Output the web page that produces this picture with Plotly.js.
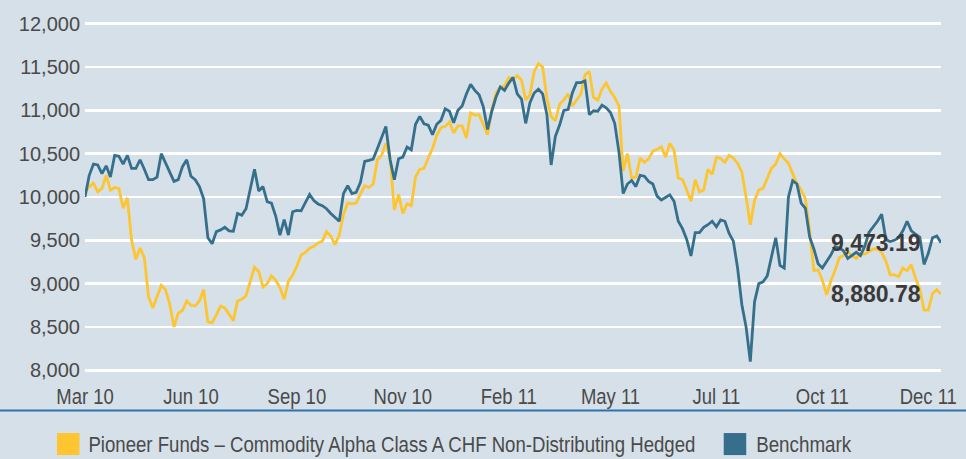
<!DOCTYPE html>
<html>
<head>
<meta charset="utf-8">
<script src="https://cdn.plot.ly/plotly-3.0.1.min.js"></script>
<style>
  html, body { margin: 0; padding: 0; background: #d6e0e8; }
  #chart { width: 966px; height: 459px; }
</style>
</head>
<body>
<div id="chart"></div>
<script>
// Tick labels and the data-point index each one marks
const tickLabels = ["Mar 10", "Jun 10", "Sep 10", "Nov 10", "Feb 11", "May 11", "Jul 11", "Oct 11", "Dec 11"];
const tickIndex = [0, 25, 50, 75, 100, 124, 149, 174, 199];

const fundName = "Pioneer Funds \u2013 Commodity Alpha Class A CHF Non-Distributing Hedged";
const benchName = "Benchmark";

// Fund series (yellow)
const fund = [
  10055,10120,10160,10060,10100,10250,10080,10110,10100,9870,
  9990,9500,9280,9410,9300,8850,8720,8850,8980,8930,
  8760,8500,8660,8690,8800,8750,8744,8800,8930,8560,
  8550,8640,8740,8720,8650,8573,8800,8820,8860,9030,
  9190,9140,8960,9000,9090,9040,8955,8820,9029,9100,
  9200,9330,9360,9409,9430,9470,9490,9600,9550,9450,
  9561,9800,9930,9920,9930,10036,10130,10110,10150,10430,
  10481,10620,10450,9850,10030,9810,9920,9900,10230,10319,
  10330,10450,10560,10710,10800,10815,10865,10738,10820,10820,
  10680,10970,10945,10950,10835,10720,11010,11200,11269,11280,
  11380,11360,11400,11350,11120,11180,11450,11540,11500,11140,
  10930,10880,11071,11120,11190,11050,11120,11186,11410,11450,
  11150,11117,11244,11315,11220,11150,11050,10300,10500,10220,
  10230,10450,10400,10440,10530,10550,10580,10460,10620,10540,
  10220,10200,10080,9950,10200,10060,10080,10320,10260,10460,
  10445,10400,10480,10450,10390,10290,10000,9680,9960,10080,
  10100,10210,10330,10380,10500,10440,10390,10270,10156,10080,
  9980,9612,9150,9160,9040,8870,9030,9150,9300,9325,
  9370,9320,9290,9345,9340,9370,9400,9400,9360,9260,
  9100,9100,9080,9180,9150,9220,9060,8940,8694,8694,
  8886,8930,8880.78
];

// Benchmark series (dark blue)
const bench = [
  10000,10250,10380,10370,10270,10360,10230,10480,10470,10380,
  10480,10330,10330,10430,10320,10200,10200,10230,10500,10400,
  10300,10180,10200,10350,10430,10240,10200,10120,9980,9530,
  9460,9600,9620,9650,9610,9605,9810,9790,9865,10110,
  10320,10070,10120,9945,9930,9780,9560,9740,9560,9830,
  9846,9840,9930,10030,9960,9920,9900,9865,9810,9760,
  9720,10040,10130,10040,10055,10170,10410,10423,10438,10560,
  10690,10815,10430,10200,10442,10460,10577,10545,10840,10930,
  10846,10830,10720,10840,10885,11019,10990,10858,11000,11050,
  11190,11300,11231,11180,11040,10780,10990,11154,11270,11230,
  11315,11380,11190,11130,10850,11090,11200,11245,11190,10950,
  10370,10700,10830,11000,11010,11200,11320,11320,11340,10950,
  10995,10990,11060,11030,10975,10850,10520,10040,10150,10190,
  10120,10250,10240,10180,10150,10010,9965,10000,10025,9950,
  9720,9635,9510,9320,9588,9588,9650,9680,9720,9656,
  9735,9720,9580,9490,9180,8760,8500,8100,8790,9000,
  9020,9090,9300,9530,9210,9180,10000,10188,10150,9930,
  9870,9540,9400,9230,9180,9250,9330,9428,9410,9380,
  9290,9325,9362,9325,9430,9590,9650,9720,9800,9510,
  9485,9500,9530,9610,9720,9610,9570,9536,9222,9350,
  9530,9550,9473.19
];

const yTicks = [8000, 8500, 9000, 9500, 10000, 10500, 11000, 11500, 12000];

const C_BG = "#d6e0e8";
const C_FUND = "#fdc52f";
const C_BENCH = "#366f8c";
const C_TEXT = "#4a4a4a";
const SANS = "'Liberation Sans', Arial, sans-serif";
const CONDENSE = 0.84;   // horizontal squeeze to mimic the condensed face

const idx = fund.map((_, i) => i);
const last = fund.length - 1;
const fmt = v => v.toLocaleString("en-US", {minimumFractionDigits: 2, maximumFractionDigits: 2});

const traces = [
  { x: idx, y: fund, type: "scatter", mode: "lines", name: fundName,
    line: { color: C_FUND, width: 2.8 }, showlegend: false, hoverinfo: "skip" },
  { x: idx, y: bench, type: "scatter", mode: "lines", name: benchName,
    line: { color: C_BENCH, width: 2.8 }, showlegend: false, hoverinfo: "skip" }
];

const W = 966, H = 459;
const mL = 85, mR = 25.3, mT = 22.3, mB = 87;
const pw = W - mL - mR, ph = H - mT - mB;
const px = x => (x - mL) / pw;
const py = y => (H - mB - y) / ph;

const layout = {
  width: W, height: H,
  paper_bgcolor: C_BG, plot_bgcolor: C_BG,
  margin: { l: mL, r: mR, t: mT, b: mB, pad: 0 },
  showlegend: false,
  xaxis: {
    range: [0, last], showgrid: false, zeroline: false, showline: false,
    tickmode: "array", tickvals: tickIndex, ticktext: tickLabels,
    ticks: "", ticklabelstandoff: 9,
    tickfont: { family: SANS, size: 22, color: C_TEXT }
  },
  yaxis: {
    range: [7980, 12020], tickmode: "array", tickvals: yTicks,
    tickformat: ",d", showgrid: true, gridcolor: "#ffffff", gridwidth: 2.5,
    zeroline: false, showline: false, ticks: "", ticklabelstandoff: 4,
    tickfont: { family: SANS, size: 20, color: C_TEXT }
  },
  shapes: [
    { type: "line", xref: "paper", yref: "paper", x0: px(0), x1: px(W), y0: py(410.5), y1: py(410.5),
      line: { color: "#2f72aa", width: 2 } },
    { type: "rect", xref: "paper", yref: "paper", x0: px(57), x1: px(79.5), y0: py(433), y1: py(455),
      fillcolor: C_FUND, line: { width: 0 } },
    { type: "rect", xref: "paper", yref: "paper", x0: px(723.5), x1: px(746), y0: py(433), y1: py(455),
      fillcolor: C_BENCH, line: { width: 0 } }
  ],
  annotations: [
    { xref: "x", yref: "y", x: last, y: bench[last], text: "<b>" + fmt(bench[last]) + "</b>",
      showarrow: false, xanchor: "right", yanchor: "middle", xshift: -18,
      font: { family: SANS, size: 23, color: "#3a3a3a" } },
    { xref: "x", yref: "y", x: last, y: fund[last], text: "<b>" + fmt(fund[last]) + "</b>",
      showarrow: false, xanchor: "right", yanchor: "middle", xshift: -18,
      font: { family: SANS, size: 23, color: "#3a3a3a" } },
    { xref: "paper", yref: "paper", x: px(392.3), y: py(444), text: fundName,
      showarrow: false, xanchor: "center", yanchor: "middle",
      font: { family: SANS, size: 22, color: C_TEXT } },
    { xref: "paper", yref: "paper", x: px(804), y: py(444), text: benchName,
      showarrow: false, xanchor: "center", yanchor: "middle",
      font: { family: SANS, size: 22, color: C_TEXT } }
  ]
};

function squeeze(el, target) {
  const w = el.getComputedTextLength();
  el.setAttribute("textLength", (target || w * CONDENSE).toFixed(1));
  el.setAttribute("lengthAdjust", "spacingAndGlyphs");
}

Plotly.newPlot("chart", traces, layout, { staticPlot: true, displayModeBar: false }).then(gd => {
  gd.querySelectorAll("g.xtick text").forEach(t => squeeze(t));
  const ann = gd.querySelectorAll("g.annotation text.annotation-text");
  if (ann[2]) squeeze(ann[2], 607);
  if (ann[3]) squeeze(ann[3], 95);
});
</script>
</body>
</html>
